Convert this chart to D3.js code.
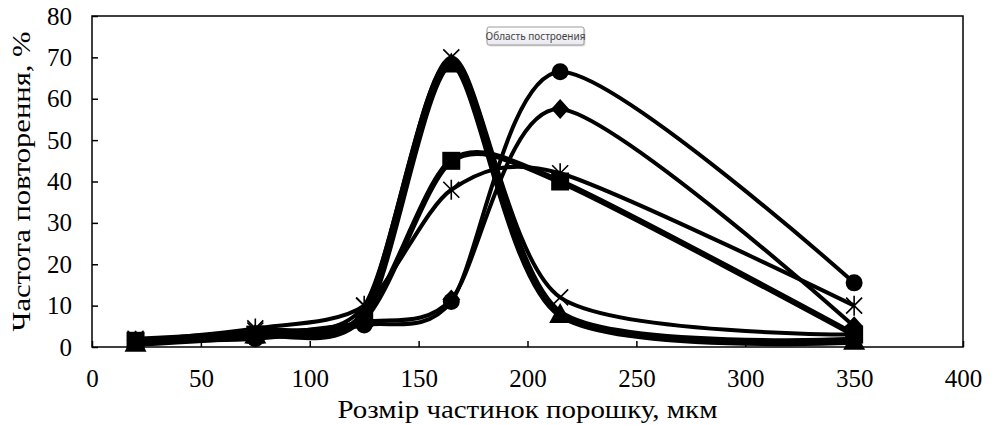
<!DOCTYPE html>
<html>
<head>
<meta charset="utf-8">
<script src="https://cdn.jsdelivr.net/npm/d3@7"></script>
<style>
  body { margin: 0; background: #fff; }
  svg { display: block; }
</style>
</head>
<body>
<svg id="chart" width="991" height="425"></svg>
<script>
// particle size, mkm
const sizes = [20, 75, 125, 165, 215, 350];

// frequency, % (one array per curve)
const circleVals   = [1.5, 2, 5.3, 11, 66.5, 15.5];
const diamondVals  = [1.5, 3, 6, 11.5, 57.5, 5];
const squareVals   = [1.5, 3, 7, 45, 40, 3];
const triangleVals = [1, 3, 8, 68.5, 8, 1.5];
const crossVals    = [2, 4, 10, 70, 12, 3];
const starVals     = [1.5, 4.5, 10, 38, 42, 10];

const xTicks = [0, 50, 100, 150, 200, 250, 300, 350, 400];
const yTicks = [0, 10, 20, 30, 40, 50, 60, 70, 80];

const series = [
  {vals: squareVals,   marker: 'square',   width: 6},
  {vals: starVals,     marker: 'star',     width: 4},
  {vals: diamondVals,  marker: 'diamond',  width: 4},
  {vals: circleVals,   marker: 'circle',   width: 4},
  {vals: crossVals,    marker: 'cross',    width: 4},
  {vals: triangleVals, marker: 'triangle', width: 8}
];

const margin = {left: 92, right: 28, top: 16, bottom: 78};
const W = 991, H = 425;

const svg = d3.select('#chart');

const x = d3.scaleLinear().domain([0, 400]).range([margin.left, W - margin.right]);
const y = d3.scaleLinear().domain([0, 80]).range([H - margin.bottom, margin.top]);

const serif = '"Liberation Serif", "Times New Roman", serif';

// ============= Axes =============
const xAxis = svg.append('g')
  .attr('transform', 'translate(0,' + y(0) + ')')
  .call(d3.axisBottom(x).tickValues(xTicks).tickSizeInner(-6).tickSizeOuter(0).tickPadding(22));

const yAxis = svg.append('g')
  .attr('transform', 'translate(' + x(0) + ',0)')
  .call(d3.axisLeft(y).tickValues(yTicks).tickSizeInner(-6).tickSizeOuter(0).tickPadding(20));

[xAxis, yAxis].forEach(a => {
  a.select('.domain').remove();
  a.selectAll('line').attr('stroke', '#000').attr('stroke-width', 1.5);
  a.selectAll('text')
    .attr('font-family', serif)
    .attr('font-size', 25)
    .attr('fill', '#000');
});
xAxis.selectAll('text').attr('dy', '0.71em');

// frame of plot area
svg.append('rect')
  .attr('x', x(0)).attr('y', y(80))
  .attr('width', x(400) - x(0)).attr('height', y(0) - y(80))
  .attr('fill', 'none').attr('stroke', '#000').attr('stroke-width', 1.5);

// axis titles
svg.append('text')
  .attr('x', (x(0) + x(400)) / 2 - 190).attr('y', 418)
  .attr('textLength', 380).attr('lengthAdjust', 'spacingAndGlyphs')
  .attr('font-family', serif).attr('font-size', 26)
  .text('Розмір частинок порошку, мкм');

svg.append('text')
  .attr('transform', 'translate(30,' + ((y(0) + y(80)) / 2 + 150) + ') rotate(-90)')
  .attr('textLength', 300).attr('lengthAdjust', 'spacingAndGlyphs')
  .attr('font-family', serif).attr('font-size', 26)
  .text('Частота повторення, %');

// ============= Curves =============
const line = d3.line()
  .x((d, i) => x(sizes[i]))
  .y(d => y(d))
  .curve(d3.curveCardinal.tension(0.2));

const plot = svg.append('g');

series.forEach(s => {
  plot.append('path')
    .datum(s.vals)
    .attr('d', line)
    .attr('fill', 'none')
    .attr('stroke', '#000')
    .attr('stroke-width', s.width)
    .attr('stroke-linejoin', 'round');
});

// ------------ Markers ------------
function drawMarker(g, type){
  if(type === 'circle'){
    g.append('circle').attr('r', 8.5).attr('fill', '#000');
  } else if(type === 'square'){
    g.append('rect').attr('x', -9).attr('y', -9).attr('width', 18).attr('height', 18).attr('fill', '#000');
  } else if(type === 'diamond'){
    g.append('path').attr('d', 'M0,-10L9,0L0,10L-9,0Z').attr('fill', '#000');
  } else if(type === 'triangle'){
    g.append('path').attr('d', 'M0,-11L11,9L-11,9Z').attr('fill', '#000');
  } else if(type === 'cross'){
    g.append('path').attr('d', 'M-8,-8L8,8M-8,8L8,-8')
      .attr('stroke', '#000').attr('stroke-width', 1.6);
  } else if(type === 'star'){
    g.append('path').attr('d', 'M-8,-8L8,8M-8,8L8,-8M0,-10L0,10')
      .attr('stroke', '#000').attr('stroke-width', 1.6);
  }
}

series.forEach(s => {
  s.vals.forEach((v, i) => {
    const g = plot.append('g').attr('transform', 'translate(' + x(sizes[i]) + ',' + y(v) + ')');
    drawMarker(g, s.marker);
  });
});

// ============= Tooltip left over in the screenshot =============
const tip = svg.append('g').attr('transform', 'translate(487,27)');
const grad = svg.append('defs').append('linearGradient')
  .attr('id', 'tipGrad').attr('x1', 0).attr('x2', 0).attr('y1', 0).attr('y2', 1);
grad.append('stop').attr('offset', '0%').attr('stop-color', '#ffffff');
grad.append('stop').attr('offset', '100%').attr('stop-color', '#e8e8ef');
tip.append('rect').attr('x', 1.5).attr('y', 1.5).attr('width', 97).attr('height', 18)
  .attr('rx', 2).attr('fill', '#bbb').attr('opacity', 0.5);
tip.append('rect').attr('width', 97).attr('height', 18).attr('rx', 2)
  .attr('fill', 'url(#tipGrad)').attr('stroke', '#9a9a9a').attr('stroke-width', 1);
tip.append('text')
  .attr('x', 48.5).attr('y', 12.5).attr('text-anchor', 'middle')
  .attr('font-family', '"Noto Sans", "Open Sans", sans-serif').attr('font-size', 10)
  .attr('fill', '#444')
  .text('Область построения');
</script>
</body>
</html>
